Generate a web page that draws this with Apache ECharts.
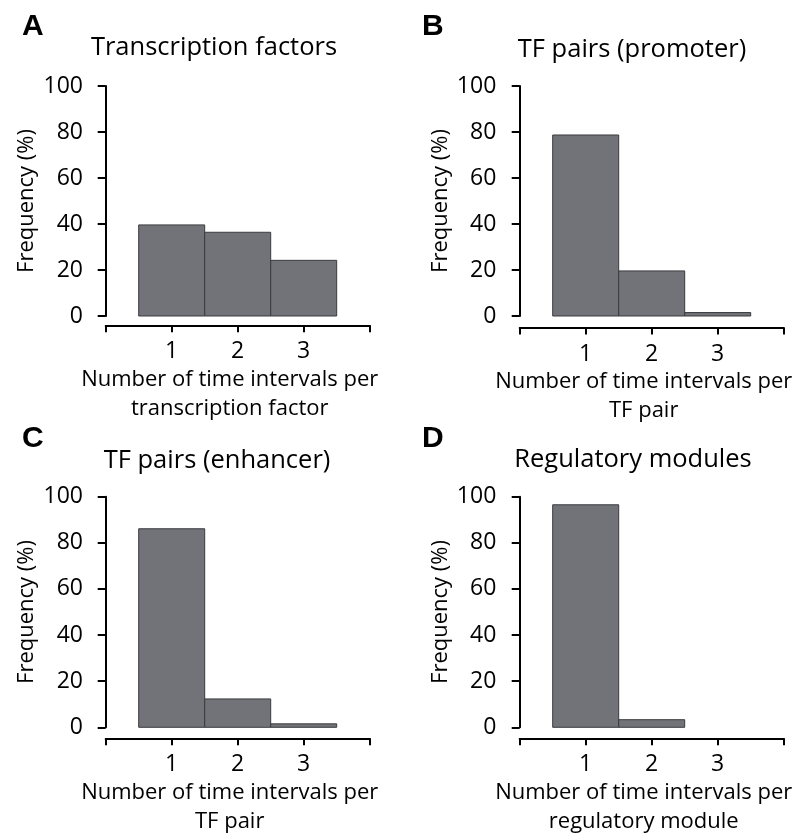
<!DOCTYPE html>
<html>
<head>
<meta charset="utf-8">
<script src="https://cdn.jsdelivr.net/npm/echarts@6/dist/echarts.min.js"></script>
<style>
html,body{margin:0;padding:0;background:#fff;}
#chart{width:795px;height:834px;}
</style>
</head>
<body>
<div id="chart"></div>
<script>
const categories = [1, 2, 3];
const xTickLabels = ['1', '2', '3'];
const yTicks = [0, 20, 40, 60, 80, 100];

const panelLetters = ['A', 'B', 'C', 'D'];
const panelTitles = ['Transcription factors', 'TF pairs (promoter)', 'TF pairs (enhancer)', 'Regulatory modules'];
const xAxisNames = [
  'Number of time intervals per\ntranscription factor',
  'Number of time intervals per\nTF pair',
  'Number of time intervals per\nTF pair',
  'Number of time intervals per\nregulatory module'
];
const yAxisName = 'Frequency (%)';

const tfValues = [39.6, 36.4, 24.2];
const promoterValues = [78.7, 19.6, 1.5];
const enhancerValues = [86.1, 12.3, 1.5];
const moduleValues = [96.5, 3.3, 0];
const allValues = [tfValues, promoterValues, enhancerValues, moduleValues];

const FONT = 'Open Sans';
const BAR_FILL = '#717378';
const BAR_STROKE = '#3a3b3e';

// layout of the four panels (pixels)
const layout = [
  {left: 105.7, top: 86, width: 264, height: 230, yOff: 10.7, xOff: 9.3, tx: 214, ty: 48, lx: 22, ly: 12},
  {left: 519.7, top: 86, width: 264, height: 230, yOff: 11.4, xOff: 11.5, tx: 632, ty: 50, lx: 422, ly: 12},
  {left: 105.7, top: 496.7, width: 264, height: 230.6, yOff: 10.7, xOff: 11, tx: 217, ty: 461, lx: 22, ly: 424},
  {left: 519.7, top: 496.7, width: 264, height: 230.6, yOff: 11.4, xOff: 11, tx: 633, ty: 460, lx: 422, ly: 424}
];

const grids = [], xAxes = [], yAxes = [], series = [], graphics = [];

layout.forEach((L, i) => {
  grids.push({left: L.left, top: L.top, width: L.width, height: L.height, containLabel: false, outerBoundsMode: 'none'});
  xAxes.push({
    type: 'value', gridIndex: i, min: 0, max: 4, interval: 1,
    offset: L.xOff,
    axisLine: {show: true, onZero: false, lineStyle: {color: '#000', width: 2}},
    axisTick: {show: true, length: 7, lineStyle: {color: '#000', width: 2}},
    axisLabel: {
      show: true, margin: 15, color: '#000', fontFamily: FONT, fontSize: 23,
      formatter: v => { const k = categories.indexOf(v); return k >= 0 ? xTickLabels[k] : ''; }
    },
    splitLine: {show: false},
    name: xAxisNames[i], nameLocation: 'middle', nameGap: 40,
    nameTextStyle: {color: '#000', fontFamily: FONT, fontSize: 22, lineHeight: 29, align: 'center', padding: [0, 16, 0, 0]}
  });
  yAxes.push({
    type: 'value', gridIndex: i, min: yTicks[0], max: yTicks[yTicks.length - 1],
    interval: yTicks[1] - yTicks[0],
    offset: L.yOff,
    axisLine: {show: true, lineStyle: {color: '#000', width: 2}},
    axisTick: {show: true, length: 8, lineStyle: {color: '#000', width: 2}},
    axisLabel: {show: true, margin: 12, color: '#000', fontFamily: FONT, fontSize: 23},
    splitLine: {show: false},
    name: yAxisName, nameLocation: 'middle', nameGap: 57,
    nameTextStyle: {color: '#000', fontFamily: FONT, fontSize: 22}
  });
  series.push({
    type: 'custom', xAxisIndex: i, yAxisIndex: i,
    data: categories.map((c, k) => [c, allValues[i][k]]),
    renderItem: (params, api) => {
      const x = api.value(0), y = api.value(1);
      if (!(y > 0)) return null;
      const p0 = api.coord([x - 0.5, y]);
      const p1 = api.coord([x + 0.5, 0]);
      return {
        type: 'rect',
        shape: {x: p0[0], y: p0[1], width: p1[0] - p0[0], height: p1[1] - p0[1]},
        style: {fill: BAR_FILL, stroke: BAR_STROKE, lineWidth: 1}
      };
    }
  });
  graphics.push({
    type: 'text', left: L.lx, top: L.ly,
    style: {text: panelLetters[i], fontFamily: 'Liberation Sans', fontWeight: 'bold', fontSize: 30, fill: '#000'}
  });
  graphics.push({
    type: 'text', x: L.tx, y: L.ty,
    style: {text: panelTitles[i], fontFamily: FONT, fontSize: 25.5, fill: '#000', align: 'center', verticalAlign: 'middle'}
  });
});

const chart = echarts.init(document.getElementById('chart'), null, {renderer: 'canvas'});
chart.setOption({
  animation: false,
  backgroundColor: '#fff',
  grid: grids,
  xAxis: xAxes,
  yAxis: yAxes,
  series: series,
  graphic: graphics
});
</script>
</body>
</html>
